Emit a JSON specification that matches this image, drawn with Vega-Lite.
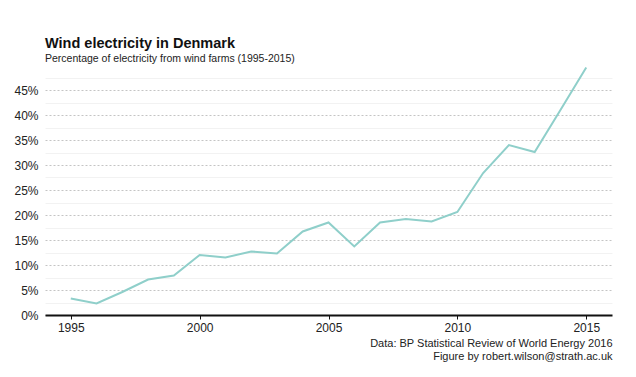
{
  "$schema": "https://vega.github.io/schema/vega-lite/v6.json",
  "autosize": "none",
  "width": 567,
  "height": 250,
  "padding": {"left": 45, "top": 65, "right": 24, "bottom": 62},
  "background": "white",
  "config": {
    "view": {"stroke": null},
    "font": "Liberation Sans"
  },
  "title": {
    "text": "Wind electricity in Denmark",
    "subtitle": "Percentage of electricity from wind farms (1995-2015)",
    "anchor": "start",
    "frame": "group",
    "offset": -2,
    "fontSize": 14.5,
    "fontWeight": "bold",
    "color": "#111111",
    "subtitleFontSize": 10.5,
    "subtitleColor": "#222222",
    "subtitlePadding": 3
  },
  "data": {
    "values": [
      {"year": 1995, "pct": 3.3},
      {"year": 1996, "pct": 2.3},
      {"year": 1997, "pct": 4.6},
      {"year": 1998, "pct": 7.1},
      {"year": 1999, "pct": 7.9},
      {"year": 2000, "pct": 12.0},
      {"year": 2001, "pct": 11.5},
      {"year": 2002, "pct": 12.7},
      {"year": 2003, "pct": 12.3},
      {"year": 2004, "pct": 16.7},
      {"year": 2005, "pct": 18.5},
      {"year": 2006, "pct": 13.7},
      {"year": 2007, "pct": 18.5},
      {"year": 2008, "pct": 19.2},
      {"year": 2009, "pct": 18.7},
      {"year": 2010, "pct": 20.6},
      {"year": 2011, "pct": 28.4},
      {"year": 2012, "pct": 34.0},
      {"year": 2013, "pct": 32.6},
      {"year": 2014, "pct": 41.0},
      {"year": 2015, "pct": 49.5}
    ]
  },
  "mark": {"type": "line", "color": "#8fcfca", "strokeWidth": 2},
  "encoding": {
    "x": {
      "field": "year",
      "type": "quantitative",
      "scale": {"domain": [1994, 2016], "nice": false, "zero": false},
      "axis": {
        "values": [1995, 2000, 2005, 2010, 2015],
        "format": "d",
        "grid": false,
        "domain": true,
        "domainColor": "#111111",
        "domainWidth": 2,
        "ticks": true,
        "tickColor": "#111111",
        "tickSize": 4,
        "tickWidth": 1,
        "labelFontSize": 12,
        "labelColor": "#222222",
        "labelPadding": 3,
        "title": ["Data: BP Statistical Review of World Energy 2016", "Figure by robert.wilson@strath.ac.uk"],
        "titleAnchor": "end",
        "titleAlign": "right",
        "titleFontSize": 11,
        "titleFontWeight": "normal",
        "titleColor": "#222222",
        "titlePadding": 4,
        "titleLineHeight": 13
      }
    },
    "y": {
      "field": "pct",
      "type": "quantitative",
      "scale": {"domain": [0, 50], "nice": false},
      "axis": {
        "values": [0, 2.5, 5, 7.5, 10, 12.5, 15, 17.5, 20, 22.5, 25, 27.5, 30, 32.5, 35, 37.5, 40, 42.5, 45, 47.5],
        "labelExpr": "datum.value % 5 === 0 ? datum.value + '%' : ''",
        "domain": false,
        "ticks": false,
        "grid": true,
        "gridColor": {"condition": {"test": "datum.value % 5 === 0", "value": "#c4c4c4"}, "value": "#f2f2f2"},
        "gridDash": {"condition": {"test": "datum.value % 5 === 0", "value": [2, 2]}, "value": []},
        "gridWidth": 1,
        "labelFontSize": 12,
        "labelColor": "#222222",
        "labelPadding": 7,
        "title": null
      }
    }
  }
}
